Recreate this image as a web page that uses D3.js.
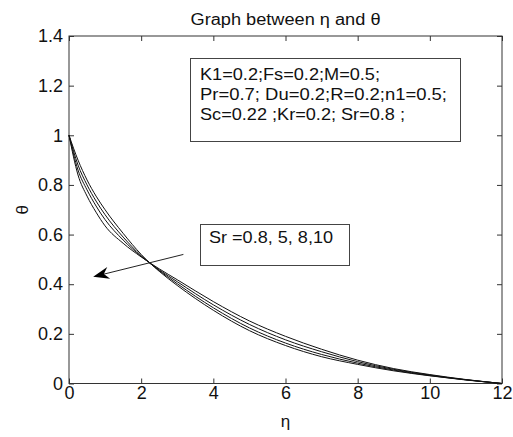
<!DOCTYPE html>
<html>
<head>
<meta charset="utf-8">
<script src="https://cdn.jsdelivr.net/npm/d3@7"></script>
<style>
  body { margin: 0; background: #fff; }
  text { font-family: "Liberation Sans", Arial, sans-serif; fill: #111; }
</style>
</head>
<body>
<svg id="chart"></svg>
<script>
// eta positions shared by every curve
const etaValues = [0, 0.25, 0.5, 0.75, 1, 1.5, 2, 2.5, 3, 4, 5, 6, 7, 8, 9, 10, 11, 12];

// theta for each Sr
const thetaSr08 = [1, 0.90, 0.82, 0.755, 0.70, 0.605, 0.52, 0.452, 0.395, 0.295, 0.213, 0.153, 0.108, 0.077, 0.051, 0.031, 0.014, 0];
const thetaSr5  = [1, 0.88, 0.80, 0.735, 0.68, 0.59, 0.515, 0.455, 0.402, 0.305, 0.224, 0.163, 0.117, 0.082, 0.054, 0.032, 0.015, 0];
const thetaSr8  = [1, 0.86, 0.78, 0.715, 0.66, 0.578, 0.512, 0.458, 0.41, 0.317, 0.238, 0.176, 0.128, 0.088, 0.057, 0.034, 0.015, 0];
const thetaSr10 = [1, 0.84, 0.755, 0.69, 0.635, 0.565, 0.51, 0.462, 0.418, 0.33, 0.252, 0.19, 0.138, 0.094, 0.06, 0.036, 0.016, 0];

const xTicks = [0, 2, 4, 6, 8, 10, 12];
const yTicks = [0, 0.2, 0.4, 0.6, 0.8, 1, 1.2, 1.4];

const paramLines = [
    "K1=0.2;Fs=0.2;M=0.5;",
    "Pr=0.7; Du=0.2;R=0.2;n1=0.5;",
    "Sc=0.22 ;Kr=0.2; Sr=0.8 ;"
];
// widths the lines take in the picture (the matlab font is wider than ours)
const paramWidths = [180, 247, 205];
const srLabel = "Sr =0.8, 5, 8,10";

const svgWidth = 513, svgHeight = 437;
const margin = {top: 36, right: 11, bottom: 53.5, left: 69},
    width = svgWidth - margin.left - margin.right,
    height = svgHeight - margin.top - margin.bottom;

const chart = d3.select('#chart')
    .attr("width", svgWidth)
    .attr("height", svgHeight);

const inner = chart.append("g")
    .attr("transform", `translate(${margin.left},${margin.top})`);

var xScale = d3.scaleLinear().domain([0, 12]).range([0, width]);
var yScale = d3.scaleLinear().domain([0, 1.4]).range([height, 0]);

var valueline = d3.line()
    .x(function(d){ return xScale(d.eta); })
    .y(function(d){ return yScale(d.theta); })
    .curve(d3.curveMonotoneX);

// axes: ticks pointing inward on all four sides, like matlab
const axisColor = "#333";
function styleAxis(g) {
    g.select(".domain").remove();
    g.selectAll("line").attr("stroke", axisColor);
    g.selectAll("text")
        .attr("font-family", null)
        .style("font-size", "18px").attr("fill", "#111");
}

inner.append("g")
    .attr("transform", "translate(0," + height + ")")
    .call(d3.axisBottom(xScale).tickValues(xTicks).tickSizeInner(-5).tickSizeOuter(0).tickPadding(3).tickFormat(d3.format("d")))
    .call(styleAxis);

inner.append("g")
    .call(d3.axisTop(xScale).tickValues(xTicks).tickSizeInner(-5).tickSizeOuter(0).tickFormat(""))
    .call(styleAxis);

inner.append("g")
    .call(d3.axisLeft(yScale).tickValues(yTicks).tickSizeInner(-5).tickSizeOuter(0).tickPadding(6).tickFormat(d => d3.format("~g")(+d.toFixed(1))))
    .call(styleAxis);

inner.append("g")
    .attr("transform", "translate(" + width + ",0)")
    .call(d3.axisRight(yScale).tickValues(yTicks).tickSizeInner(-5).tickSizeOuter(0).tickFormat(""))
    .call(styleAxis);

inner.append("rect")
    .attr("width", width).attr("height", height)
    .attr("fill", "none").attr("stroke", axisColor).attr("stroke-width", 1);

// curves
const series = [thetaSr08, thetaSr5, thetaSr8, thetaSr10];
series.forEach(function(vals) {
    inner.append("path")
        .datum(etaValues.map((e, i) => ({eta: e, theta: vals[i]})))
        .attr("fill", "none")
        .attr("stroke", "#111")
        .attr("stroke-width", 1)
        .attr("d", valueline);
});

// title and axis labels
chart.append("text")
    .attr("x", margin.left + width / 2).attr("y", 25)
    .attr("text-anchor", "middle").style("font-size", "16px")
    .attr("textLength", 190).attr("lengthAdjust", "spacingAndGlyphs")
    .text("Graph between η and θ");

chart.append("text")
    .attr("x", margin.left + width / 2).attr("y", 427)
    .attr("text-anchor", "middle").style("font-size", "17px")
    .text("η");

chart.append("text")
    .attr("transform", "translate(28," + (margin.top + height / 2) + ") rotate(-90)")
    .attr("text-anchor", "middle").style("font-size", "17px")
    .text("θ");

// parameter box
const boxColor = "#444";
chart.append("rect")
    .attr("x", 190.5).attr("y", 58.5).attr("width", 270).attr("height", 83)
    .attr("fill", "#fff").attr("stroke", boxColor);
chart.append("g").selectAll("text")
    .data(paramLines).enter().append("text")
    .attr("x", 200).attr("y", (d, i) => 80 + i * 20)
    .style("font-size", "16.5px")
    .attr("textLength", (d, i) => paramWidths[i]).attr("lengthAdjust", "spacingAndGlyphs")
    .text(d => d);

// Sr box
chart.append("rect")
    .attr("x", 200.5).attr("y", 224.5).attr("width", 149).attr("height", 41)
    .attr("fill", "#fff").attr("stroke", boxColor);
chart.append("text")
    .attr("x", 209).attr("y", 243)
    .style("font-size", "16.5px")
    .attr("textLength", 124).attr("lengthAdjust", "spacingAndGlyphs")
    .text(srLabel);

// arrow (annotation, in data units so it follows the scales)
const arrowFrom = {eta: 3.17, theta: 0.52}, arrowTo = {eta: 0.67, theta: 0.43};
const x1 = margin.left + xScale(arrowFrom.eta), y1 = margin.top + yScale(arrowFrom.theta);
const x2 = margin.left + xScale(arrowTo.eta), y2 = margin.top + yScale(arrowTo.theta);
const ang = Math.atan2(y2 - y1, x2 - x1);
const headLen = 16, headW = 6;
chart.append("line")
    .attr("x1", x1).attr("y1", y1)
    .attr("x2", x2 - Math.cos(ang) * 8).attr("y2", y2 - Math.sin(ang) * 8)
    .attr("stroke", "#222").attr("stroke-width", 1);
function pt(along, across) {
    return [x2 - Math.cos(ang) * along - Math.sin(ang) * across,
            y2 - Math.sin(ang) * along + Math.cos(ang) * across];
}
chart.append("path")
    .attr("d", "M" + [x2, y2] + "L" + pt(headLen, headW) + "L" + pt(headLen - 5, 0) + "L" + pt(headLen, -headW) + "Z")
    .attr("fill", "#000");
</script>
</body>
</html>
